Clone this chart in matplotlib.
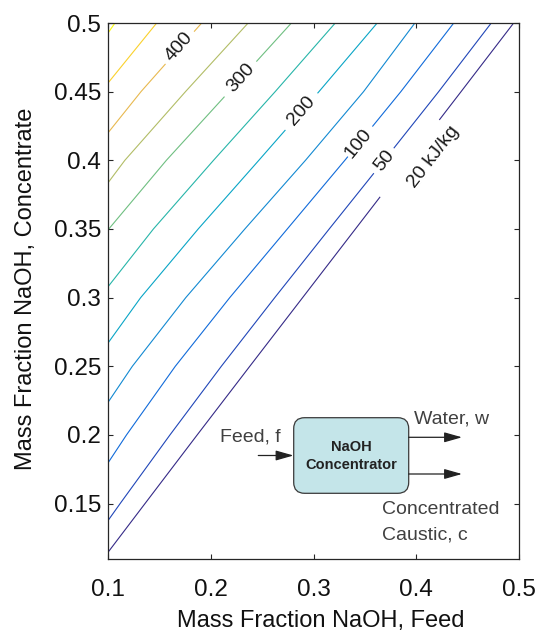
import numpy as np
import matplotlib
matplotlib.use('Agg')
import matplotlib.pyplot as plt
from matplotlib.colors import LinearSegmentedColormap, Normalize
from matplotlib.patches import FancyBboxPatch
from matplotlib.ticker import FormatStrFormatter, MultipleLocator

plt.rcParams['font.family'] = ['Liberation Sans', 'DejaVu Sans']

# contour levels, kJ/kg
levels = [20, 50, 100, 150, 200, 250, 300, 350, 400, 450, 500]

# each contour: feed mass fraction (xf) vs concentrate mass fraction (xc)
xf_20 = [0.100, 0.1360, 0.1868, 0.2380, 0.2894, 0.3408, 0.3922, 0.4436, 0.4948]
xc_20 = [0.1145, 0.15, 0.20, 0.25, 0.30, 0.35, 0.40, 0.45, 0.50]
xf_50 = [0.100, 0.1118, 0.1603, 0.2103, 0.2623, 0.3153, 0.3688, 0.4218, 0.4730]
xc_50 = [0.1376, 0.15, 0.20, 0.25, 0.30, 0.35, 0.40, 0.45, 0.50]
xf_100 = [0.100, 0.1180, 0.1655, 0.2185, 0.2745, 0.3305, 0.3850, 0.4365]
xc_100 = [0.1796, 0.20, 0.25, 0.30, 0.35, 0.40, 0.45, 0.50]
xf_150 = [0.100, 0.1237, 0.1757, 0.2332, 0.2922, 0.3487, 0.3987]
xc_150 = [0.2237, 0.25, 0.30, 0.35, 0.40, 0.45, 0.50]
xf_200 = [0.100, 0.1318, 0.1878, 0.2468, 0.3053, 0.3620]
xc_200 = [0.2669, 0.30, 0.35, 0.40, 0.45, 0.50]
xf_250 = [0.100, 0.1442, 0.2027, 0.2627, 0.3212]
xc_250 = [0.3079, 0.35, 0.40, 0.45, 0.50]
xf_300 = [0.100, 0.1568, 0.2178, 0.2785]
xc_300 = [0.3493, 0.40, 0.45, 0.50]
xf_350 = [0.100, 0.1164, 0.1754, 0.2364]
xc_350 = [0.3836, 0.40, 0.45, 0.50]
xf_400 = [0.100, 0.1321, 0.1912]
xc_400 = [0.420, 0.45, 0.50]
xf_450 = [0.100, 0.1474]
xc_450 = [0.4563, 0.50]
xf_500 = [0.100, 0.1068]
xc_500 = [0.4927, 0.50]

# inline labels
lab_levels = [400, 300, 200, 100, 50, 20]
lab_text = ['400', '300', '200', '100', '50', '20 kJ/kg']
lab_xf = [0.1690, 0.2295, 0.2882, 0.3440, 0.3695, 0.4170]
lab_xc = [0.4828, 0.4598, 0.4362, 0.4124, 0.3998, 0.4023]
gap_lo = [0.4702, 0.4464, 0.4221, 0.4027, 0.3906, 0.3734]
gap_hi = [0.4937, 0.4719, 0.4488, 0.4246, 0.4088, 0.4294]

lines = {20: (xf_20, xc_20), 50: (xf_50, xc_50), 100: (xf_100, xc_100),
         150: (xf_150, xc_150), 200: (xf_200, xc_200), 250: (xf_250, xc_250),
         300: (xf_300, xc_300), 350: (xf_350, xc_350), 400: (xf_400, xc_400),
         450: (xf_450, xc_450), 500: (xf_500, xc_500)}

# parula-like map
parula = LinearSegmentedColormap.from_list('parula', [
    (0.000, (0.2081, 0.1663, 0.5292)),
    (0.111, (0.0591, 0.3598, 0.8683)),
    (0.254, (0.0793, 0.5200, 0.8312)),
    (0.365, (0.0231, 0.6418, 0.7913)),
    (0.476, (0.1453, 0.7098, 0.6646)),
    (0.587, (0.4420, 0.7481, 0.5033)),
    (0.698, (0.7184, 0.7411, 0.3905)),
    (0.794, (0.9139, 0.7258, 0.3063)),
    (0.857, (0.9990, 0.7653, 0.2164)),
    (0.937, (0.9626, 0.8705, 0.1309)),
    (1.000, (0.9763, 0.9831, 0.0538))])
norm = Normalize(vmin=20, vmax=500)

W, H = 544, 632
fig = plt.figure(figsize=(W / 100, H / 100), dpi=100)
ax = fig.add_axes([108 / W, 1 - 558.5 / H, 411 / W, 535.5 / H])
ax.set_xlim(0.1, 0.5)
ax.set_ylim(0.11, 0.5)


def cut_gap(xf, xc, lo, hi):
    xf = np.asarray(xf, float)
    xc = np.asarray(xc, float)
    f_lo = np.interp(lo, xc, xf)
    f_hi = np.interp(hi, xc, xf)
    b = xc < lo
    a = xc > hi
    xs = np.concatenate([xf[b], [f_lo, np.nan, f_hi], xf[a]])
    ys = np.concatenate([xc[b], [lo, np.nan, hi], xc[a]])
    return xs, ys


for lev in levels:
    xf, xc = lines[lev]
    xs, ys = np.asarray(xf, float), np.asarray(xc, float)
    if lev in lab_levels:
        i = lab_levels.index(lev)
        xs, ys = cut_gap(xf, xc, gap_lo[i], gap_hi[i])
    ax.plot(xs, ys, color=parula(norm(lev)), lw=0.8, solid_capstyle='butt',
            solid_joinstyle='round')

# labels, rotated along their line
for i, lev in enumerate(lab_levels):
    xf, xc = lines[lev]
    y1, y2 = lab_xc[i] - 0.01, lab_xc[i] + 0.01
    p1 = ax.transData.transform((np.interp(y1, xc, xf), y1))
    p2 = ax.transData.transform((np.interp(y2, xc, xf), y2))
    ang = np.degrees(np.arctan2(p2[1] - p1[1], p2[0] - p1[0]))
    ax.text(lab_xf[i], lab_xc[i], lab_text[i], rotation=ang, rotation_mode='anchor',
            ha='center', va='center', fontsize=14, color='#1a1a1a')

ax.xaxis.set_major_locator(MultipleLocator(0.1))
ax.xaxis.set_major_formatter(FormatStrFormatter('%g'))
ax.yaxis.set_major_formatter(FormatStrFormatter('%g'))
ax.set_yticks([0.15, 0.2, 0.25, 0.3, 0.35, 0.4, 0.45, 0.5])
ax.tick_params(direction='in', top=True, right=True, length=3.6, width=0.8,
               color='#262626', labelsize=17.5, labelcolor='#111111')
ax.tick_params(axis='x', pad=15)
ax.tick_params(axis='y', pad=5)
for s in ax.spines.values():
    s.set_color('#262626')
    s.set_linewidth(0.9)

ax.set_xlabel('Mass Fraction NaOH, Feed', fontsize=17, color='#111111')
ax.xaxis.label.set_verticalalignment('baseline')
ax.xaxis.set_label_coords(0.518, -0.127)
ax.set_ylabel('Mass Fraction NaOH, Concentrate', fontsize=17, color='#111111')
ax.yaxis.set_label_coords(-0.172, 0.503)


# process sketch (figure pixel positions)
def fpos(px, py):
    return px / W, 1 - py / H


bx0, by0 = fpos(293.7, 493.3)
bx1, by1 = fpos(408.7, 417.7)
box = FancyBboxPatch((bx0, by0), bx1 - bx0, by1 - by0,
                     boxstyle='round,pad=0,rounding_size=0.02', mutation_aspect=W / H,
                     transform=fig.transFigure, facecolor='#c4e5e9', edgecolor='#3a3a3a',
                     lw=0.9, clip_on=False, zorder=3)
ax.add_patch(box)
fig.text(*fpos(351, 456), 'NaOH\nConcentrator', ha='center', va='center',
         multialignment='center', fontsize=10.5, fontweight='bold', color='#222222',
         linespacing=1.3, zorder=4)

arrow = dict(arrowstyle='-|>,head_length=0.6,head_width=0.17', color='#222222', lw=0.9,
             shrinkA=0, shrinkB=0, mutation_scale=18)
for (sx, sy), (ex, ey) in [((258.3, 455.5), (293.5, 455.5)),
                           ((408.7, 437.3), (462.0, 437.3)),
                           ((408.7, 474.0), (462.0, 474.0))]:
    ax.annotate('', xy=fpos(ex, ey), xytext=fpos(sx, sy), xycoords='figure fraction',
                textcoords='figure fraction', arrowprops=arrow, zorder=4)

txt = dict(fontsize=14, color='#404040', ha='left', va='baseline')
fig.text(*fpos(220, 441.5), 'Feed, f', **txt)
fig.text(*fpos(413.5, 423.5), 'Water, w', **txt)
fig.text(*fpos(382, 514.5), 'Concentrated', **txt)
fig.text(*fpos(382, 539.5), 'Caustic, c', **txt)

fig.savefig('out.png', dpi=100)
